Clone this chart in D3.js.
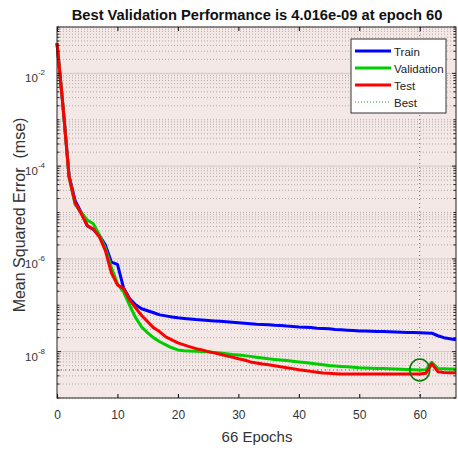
<!DOCTYPE html>
<html>
<head>
<meta charset="utf-8">
<script src="https://cdn.jsdelivr.net/npm/d3@7"></script>
<style>
  body { margin: 0; background: #fff; }
  svg { display: block; font-family: "Liberation Sans", Arial, sans-serif; }
</style>
</head>
<body>
<script>
// mse per epoch
const epochs = d3.range(0, 67)
const train = [4.5e-2, 1.9e-3, 6.2e-5, 1.8e-5, 1.0e-5, 5.2e-6, 4.3e-6, 3.2e-6, 2.0e-6, 8.5e-7,
  7.6e-7, 2.4e-7, 1.4e-7, 1.02e-7, 8.4e-8, 7.6e-8, 6.9e-8, 6.2e-8, 5.9e-8, 5.6e-8,
  5.35e-8, 5.2e-8, 5.05e-8, 4.9e-8, 4.8e-8, 4.7e-8, 4.6e-8, 4.5e-8, 4.4e-8, 4.3e-8,
  4.2e-8, 4.1e-8, 4.0e-8, 3.9e-8, 3.85e-8, 3.8e-8, 3.7e-8, 3.65e-8, 3.55e-8, 3.5e-8,
  3.4e-8, 3.35e-8, 3.3e-8, 3.2e-8, 3.15e-8, 3.1e-8, 3.0e-8, 2.95e-8, 2.9e-8, 2.85e-8,
  2.8e-8, 2.78e-8, 2.75e-8, 2.72e-8, 2.7e-8, 2.67e-8, 2.64e-8, 2.62e-8, 2.6e-8, 2.57e-8,
  2.55e-8, 2.53e-8, 2.5e-8, 2.2e-8, 2.0e-8, 1.9e-8, 1.8e-8]
const validation = [4.5e-2, 1.9e-3, 5.8e-5, 1.5e-5, 1.0e-5, 6.9e-6, 5.7e-6, 3.3e-6, 1.7e-6, 6.5e-7,
  2.9e-7, 1.95e-7, 1.0e-7, 5.4e-8, 3.4e-8, 2.54e-8, 1.98e-8, 1.63e-8, 1.4e-8, 1.21e-8,
  1.09e-8, 1.05e-8, 1.03e-8, 1.02e-8, 1.0e-8, 9.9e-9, 9.6e-9, 9.3e-9, 9.0e-9, 8.7e-9,
  8.5e-9, 8.2e-9, 7.9e-9, 7.6e-9, 7.3e-9, 7.0e-9, 6.8e-9, 6.6e-9, 6.4e-9, 6.2e-9,
  6.0e-9, 5.8e-9, 5.6e-9, 5.4e-9, 5.2e-9, 5.0e-9, 4.9e-9, 4.8e-9, 4.7e-9, 4.6e-9,
  4.5e-9, 4.45e-9, 4.4e-9, 4.35e-9, 4.3e-9, 4.25e-9, 4.2e-9, 4.15e-9, 4.1e-9, 4.05e-9,
  4.016e-9, 4.05e-9, 5.9e-9, 4.3e-9, 4.25e-9, 4.2e-9, 4.2e-9]
const test = [4.5e-2, 1.9e-3, 5.8e-5, 1.6e-5, 9.5e-6, 5.2e-6, 4.4e-6, 3.0e-6, 1.5e-6, 5.0e-7,
  2.75e-7, 2.3e-7, 1.31e-7, 8.8e-8, 6.0e-8, 4.4e-8, 3.26e-8, 2.67e-8, 2.08e-8, 1.8e-8,
  1.55e-8, 1.4e-8, 1.27e-8, 1.16e-8, 1.09e-8, 1.0e-8, 9.4e-9, 8.8e-9, 8.1e-9, 7.6e-9,
  7.0e-9, 6.6e-9, 6.0e-9, 5.7e-9, 5.4e-9, 5.2e-9, 4.95e-9, 4.7e-9, 4.5e-9, 4.3e-9,
  4.06e-9, 3.9e-9, 3.75e-9, 3.6e-9, 3.45e-9, 3.4e-9, 3.35e-9, 3.3e-9, 3.3e-9, 3.3e-9,
  3.3e-9, 3.3e-9, 3.3e-9, 3.3e-9, 3.3e-9, 3.3e-9, 3.3e-9, 3.3e-9, 3.3e-9, 3.3e-9,
  3.3e-9, 3.4e-9, 5.5e-9, 3.7e-9, 3.55e-9, 3.5e-9, 3.5e-9]
const bestEpoch = 60
const bestPerf = 4.016e-9
const xTicks = [0, 10, 20, 30, 40, 50, 60]
const yTicks = [1e-8, 1e-6, 1e-4, 1e-2]
const yTickExp = ["-8", "-6", "-4", "-2"]
const legendNames = ["Train", "Validation", "Test", "Best"]

const width = 458, height = 451
const pLeft = 57, pRight = 456, pTop = 27, pBottom = 398

const x = d3.scaleLinear().domain([0, 66]).range([pLeft, pRight])
const y = d3.scaleLog().domain([1e-9, 1e-1]).range([pBottom, pTop])

const svg = d3.select("body").append("svg")
    .attr("width", width)
    .attr("height", height)

svg.append("rect")
    .attr("x", pLeft).attr("y", pTop)
    .attr("width", pRight - pLeft).attr("height", pBottom - pTop)
    .attr("fill", "#f3e8e6")

// minor grid
svg.append("g")
    .selectAll("line")
    .data(y.ticks().filter(v => !yTicks.includes(v)))
    .join("line")
    .attr("x1", pLeft).attr("x2", pRight)
    .attr("y1", d => y(d)).attr("y2", d => y(d))
    .attr("stroke", "#a89c9c")
    .attr("stroke-width", 0.8)
    .attr("stroke-dasharray", "1,2")

// major grid
svg.append("g")
    .selectAll("line")
    .data(yTicks)
    .join("line")
    .attr("x1", pLeft).attr("x2", pRight)
    .attr("y1", d => y(d)).attr("y2", d => y(d))
    .attr("stroke", "#d2c6c6")
    .attr("stroke-width", 1)

// best markers
svg.append("line")
    .attr("x1", x(bestEpoch)).attr("x2", x(bestEpoch))
    .attr("y1", pTop).attr("y2", pBottom)
    .attr("stroke", "#1a9a1a").attr("stroke-width", 1)
    .attr("stroke-dasharray", "1,3")
svg.append("line")
    .attr("x1", pLeft).attr("x2", pRight)
    .attr("y1", y(bestPerf)).attr("y2", y(bestPerf))
    .attr("stroke", "#1a9a1a").attr("stroke-width", 1)
    .attr("stroke-dasharray", "1,3")

const line = data => d3.line()
    .x((d, i) => x(epochs[i]))
    .y(d => y(d))(data)

const series = [
    {data: train, color: "#0000ff"},
    {data: validation, color: "#00cc00"},
    {data: test, color: "#ff0000"}
]

svg.append("g")
    .selectAll("path")
    .data(series)
    .join("path")
    .attr("d", d => line(d.data))
    .attr("fill", "none")
    .attr("stroke", d => d.color)
    .attr("stroke-width", 3)
    .attr("stroke-linejoin", "round")

svg.append("ellipse")
    .attr("cx", x(bestEpoch)).attr("cy", y(bestPerf))
    .attr("rx", 10).attr("ry", 11)
    .attr("fill", "none")
    .attr("stroke", "#0b7a0b").attr("stroke-width", 1.6)

// axes
const xAxis = svg.append("g")
    .attr("transform", `translate(0,${pBottom})`)
    .call(d3.axisBottom(x).tickValues(xTicks).tickSize(-4).tickPadding(12))
xAxis.select(".domain").remove()
xAxis.selectAll("text").attr("font-size", 12).attr("fill", "#333")
    .attr("font-family", "Liberation Sans, Arial, sans-serif")

const xTop = svg.append("g")
    .attr("transform", `translate(0,${pTop})`)
    .call(d3.axisTop(x).tickValues(xTicks).tickSize(-4).tickFormat(""))
xTop.select(".domain").remove()

// y minor ticks both sides
const minor = y.ticks()
svg.append("g").selectAll("line").data(minor).join("line")
    .attr("x1", pLeft).attr("x2", d => pLeft + (yTicks.includes(d) ? 4 : 2.5))
    .attr("y1", d => y(d)).attr("y2", d => y(d))
    .attr("stroke", "#222")
svg.append("g").selectAll("line").data(minor).join("line")
    .attr("x1", pRight).attr("x2", d => pRight - (yTicks.includes(d) ? 4 : 2.5))
    .attr("y1", d => y(d)).attr("y2", d => y(d))
    .attr("stroke", "#222")

const yLab = svg.append("g").selectAll("text")
    .data(yTicks)
    .join("text")
    .attr("x", pLeft - 12)
    .attr("y", d => y(d) + 9)
    .attr("text-anchor", "end")
    .attr("fill", "#333")
    .attr("font-size", 11.5)
yLab.append("tspan").text("10")
yLab.append("tspan")
    .attr("dy", -7)
    .attr("font-size", 8)
    .text((d, i) => yTickExp[i])

svg.append("rect")
    .attr("x", pLeft).attr("y", pTop)
    .attr("width", pRight - pLeft).attr("height", pBottom - pTop)
    .attr("fill", "none")
    .attr("stroke", "#222")
    .attr("stroke-width", 1)

// labels
svg.append("text")
    .attr("x", 257).attr("y", 20)
    .attr("text-anchor", "middle")
    .attr("font-weight", "bold")
    .attr("font-size", 14.7)
    .attr("fill", "#111")
    .text("Best Validation Performance is 4.016e-09 at epoch 60")

svg.append("text")
    .attr("x", 257).attr("y", 442)
    .attr("text-anchor", "middle")
    .attr("font-size", 15)
    .attr("fill", "#333")
    .text("66 Epochs")

svg.append("text")
    .attr("transform", `translate(25,215) rotate(-90)`)
    .attr("text-anchor", "middle")
    .attr("font-size", 16)
    .attr("fill", "#333")
    .style("white-space", "pre")
    .text("Mean Squared Error  (mse)")

// legend
const lg = svg.append("g")
lg.append("rect")
    .attr("x", 351).attr("y", 39)
    .attr("width", 95).attr("height", 74)
    .attr("fill", "#fff")
    .attr("stroke", "#333")
    .attr("stroke-width", 1)

const lgColors = ["#0000ff", "#00cc00", "#ff0000", "#1a9a1a"]
const rows = lg.selectAll("g.row")
    .data(legendNames)
    .join("g")
    .attr("class", "row")
    .attr("transform", (d, i) => `translate(0,${51 + i * 17})`)
rows.append("line")
    .attr("x1", 355).attr("x2", 391)
    .attr("stroke", (d, i) => lgColors[i])
    .attr("stroke-width", (d, i) => i < 3 ? 3 : 1)
    .attr("stroke-dasharray", (d, i) => i < 3 ? null : "1,2")
rows.append("text")
    .attr("x", 394).attr("y", 4.5)
    .attr("font-size", 11.5)
    .attr("fill", "#222")
    .text(d => d)
</script>
</body>
</html>
